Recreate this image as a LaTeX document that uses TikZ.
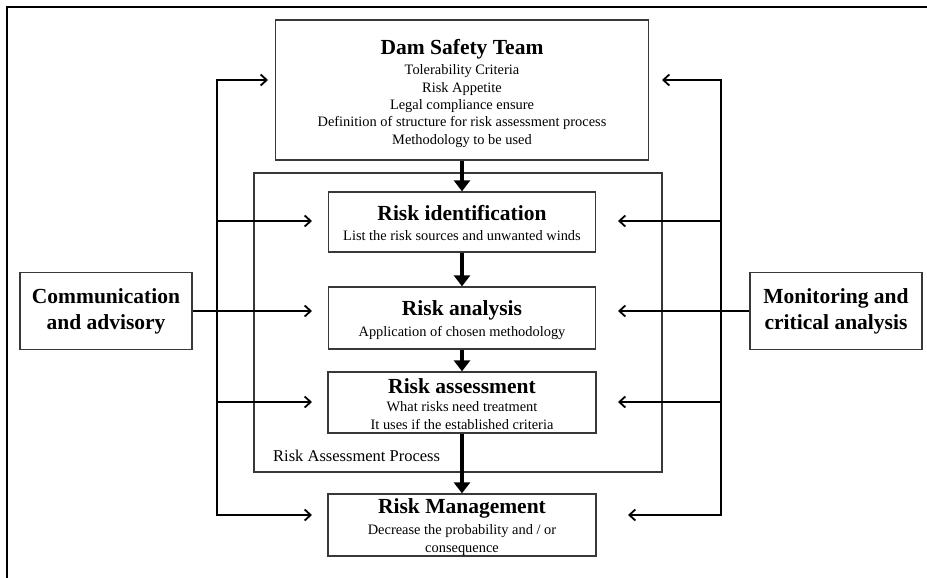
\documentclass[tikz,border=0pt]{standalone}
\usepackage{fontspec}
\setmainfont{Liberation Serif}
\usetikzlibrary{arrows.meta}
\begin{document}
\begin{tikzpicture}[x=1pt,y=-1pt,
  box/.style={draw=black!78,line width=1.3pt,inner sep=0pt},
  head/.style={font=\bfseries\fontsize{21.5}{26}\selectfont,inner sep=0pt,align=center},
  body/.style={font=\fontsize{14.4}{17.3}\selectfont,inner sep=0pt,align=center},
  feed/.style={line width=1.8pt,-{Straight Barb[length=6pt,width=11pt]}},
  feedboth/.style={line width=1.8pt,{Straight Barb[length=6pt,width=11pt]}-{Straight Barb[length=6pt,width=11pt]}},
  flow/.style={line width=4.5pt,-{Triangle[length=11pt,width=16pt]}},
  frame/.style={line width=1.5pt}]
\useasboundingbox (0,0) rectangle (927,578);

% outer frame
\coordinate (F0) at (7,578);
\coordinate (F1) at (7,7);
\coordinate (F2) at (927,7);
\draw[frame] (F0) -- (F1) -- (F2);

% boxes
\node[box,minimum width=373pt,minimum height=140pt] (dam) at (462,90) {};
\node[box,minimum width=408pt,minimum height=299pt] (rap) at (458,322.5) {};
\node[box,minimum width=267pt,minimum height=60pt] (ident) at (462,222) {};
\node[box,minimum width=267pt,minimum height=62pt] (anal) at (462,318) {};
\node[box,minimum width=268pt,minimum height=61pt] (assess) at (462,402.5) {};
\node[box,minimum width=268pt,minimum height=62pt] (manage) at (462,525) {};
\node[box,head,minimum width=172pt,minimum height=77pt] (comm) at (106,311) {Communication\\and advisory};
\node[box,head,minimum width=172pt,minimum height=77pt] (monit) at (836,311) {Monitoring and\\critical analysis};

% texts
\node[head] (damT) at (462,49) {Dam Safety Team};
\node[body] (damB) at (462,106) {Tolerability Criteria\\Risk Appetite\\Legal compliance ensure\\Definition of structure for risk assessment process\\Methodology to be used};
\node[head] (identT) at (462,213) {Risk identification};
\node[body] (identB) at (462,236) {List the risk sources and unwanted winds};
\node[head] (analT) at (462,310) {Risk analysis};
\node[body] (analB) at (462,333) {Application of chosen methodology};
\node[head] (assessT) at (462,386) {Risk assessment};
\node[body] (assessB) at (462,415.5) {What risks need treatment\\It uses if the established criteria};
\node[head] (manageT) at (462,508) {Risk Management};
\node[body] (manageB) at (462,540) {Decrease the probability and / or\\consequence};
\node[font=\fontsize{16.5}{20}\selectfont,inner sep=0pt,anchor=west] (rapT) at (273,456) {Risk Assessment Process};

% main flow
\draw[flow] (dam.south) -- (ident.north);
\draw[flow] (ident.south) -- (anal.north);
\draw[flow] (anal.south) -- (assess.north);
\draw[flow] (assess.south) -- (manage.north);

% left feedback bus
\coordinate (L0) at (217,80);
\coordinate (L1) at (217,221);
\coordinate (L3) at (217,402);
\coordinate (L4) at (217,515);
\coordinate (LT0) at (268,80);
\coordinate (LT1) at (312,221);
\coordinate (LT2) at (312,311);
\coordinate (LT3) at (312,402);
\coordinate (LT4) at (312,515);
\draw[feedboth] (LT4) -- (L4) -- (L0) -- (LT0);
\draw[feed] (L1) -- (LT1);
\draw[feed] (comm.east) -- (LT2);
\draw[feed] (L3) -- (LT3);

% right feedback bus
\coordinate (R0) at (721,80);
\coordinate (R1) at (721,221);
\coordinate (R3) at (721,402);
\coordinate (R4) at (721,515);
\coordinate (RT0) at (662,80);
\coordinate (RT1) at (618,221);
\coordinate (RT2) at (618,311);
\coordinate (RT3) at (618,402);
\coordinate (RT4) at (628,515);
\draw[feedboth] (RT4) -- (R4) -- (R0) -- (RT0);
\draw[feed] (R1) -- (RT1);
\draw[feed] (monit.west) -- (RT2);
\draw[feed] (R3) -- (RT3);
\end{tikzpicture}
\end{document}
